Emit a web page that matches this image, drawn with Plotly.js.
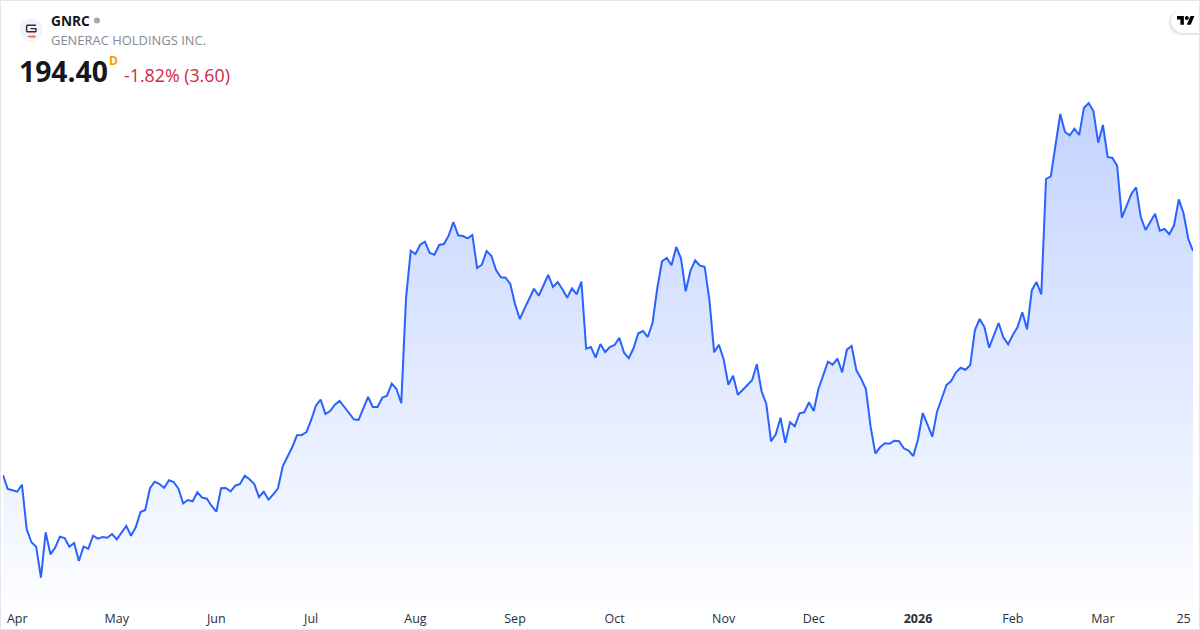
<!DOCTYPE html>
<html>
<head>
<meta charset="utf-8">
<script src="https://cdn.plot.ly/plotly-3.0.1.min.js"></script>
<style>html,body{margin:0;padding:0;background:#fff;overflow:hidden}#c{width:1200px;height:630px}</style>
</head>
<body>
<div id="c"></div>
<script>
const closes = [129.53,125.48,125.10,124.69,126.72,113.80,110.04,108.77,99.79,112.94,106.56,108.48,111.66,111.28,108.77,109.84,104.62,108.77,108.19,111.95,111.08,111.57,111.37,112.44,110.91,112.82,114.76,111.95,114.38,118.81,119.40,125.68,127.59,126.92,125.85,127.99,127.50,125.56,121.33,122.29,121.91,124.52,122.96,122.67,120.55,118.90,125.68,125.76,124.81,126.43,126.92,129.33,128.28,126.92,123.16,124.69,122.38,123.94,125.68,132.05,134.66,137.55,141.03,141.11,141.98,145.46,149.60,151.34,147.20,148.06,149.89,150.96,149.22,147.40,145.66,145.46,148.73,152.12,149.22,149.22,151.92,152.49,155.97,154.44,150.29,180.59,194.49,193.53,196.22,197.09,193.82,193.33,196.14,196.43,198.83,202.80,198.95,198.74,198.08,199.03,189.48,190.43,194.40,193.04,188.90,186.78,186.67,184.84,179.05,174.71,177.69,180.70,183.48,181.45,184.55,187.45,183.97,185.42,183.31,180.88,183.60,181.86,185.51,166.11,166.60,163.50,167.47,165.15,166.60,167.18,169.29,164.95,163.33,166.22,170.57,171.23,169.49,173.55,183.60,191.42,192.37,190.26,195.56,192.29,182.73,188.69,191.71,190.14,189.85,180.21,165.06,167.26,163.04,155.68,158.29,152.78,154.15,155.51,156.95,161.59,153.77,150.09,139.29,141.32,146.12,138.88,144.79,143.63,147.40,147.69,150.58,148.06,154.52,158.40,162.34,161.47,163.21,159.27,165.82,166.89,159.85,157.42,154.44,143.52,135.70,137.55,138.71,138.59,139.46,139.29,137.26,136.57,135.03,139.87,147.48,144.10,140.62,147.77,151.74,155.59,156.75,159.27,160.60,160.02,161.30,171.52,174.71,172.39,166.40,169.87,173.55,169.41,167.38,170.07,172.39,176.65,171.72,183.02,185.42,181.86,215.25,216.03,225.01,234.08,228.86,227.91,229.82,227.99,235.90,237.26,234.94,225.76,230.89,221.62,221.33,219.10,204.04,207.43,210.91,212.85,204.16,200.48,202.71,205.20,200.28,200.77,199.24,201.84,209.37,205.32,197.96,194.40];
const tickBars = [3,24,45,65,87,108,129,152,171,193,213,232,249];
const tickLabels = ['Apr','May','Jun','Jul','Aug','Sep','Oct','Nov','Dec','<b>2026</b>','Feb','Mar','25'];
const symbol = 'GNRC';
const company = 'GENERAC HOLDINGS INC.';
const lastPrice = '194.40';
const change = '-1.82% (3.60)';
const priceMin = 90.72, priceMax = 267.09;

const W = 1200, H = 630, ml = 3, mr = 7, mt = 0, mb = 21;
const px = x => (x - ml) / (W - ml - mr);
const py = y => 1 - (y - mt) / (H - mt - mb);
const bars = closes.map((_, i) => i);

function note(text, x, y, size, color, bold, font, anchor) {
  return {text: bold ? '<b>' + text + '</b>' : text, xref: 'paper', yref: 'paper', x: px(x), y: py(y),
    xanchor: anchor || 'left', yanchor: 'middle', showarrow: false, borderpad: 0,
    font: {family: font || '"Open Sans", sans-serif', size: size, color: color}};
}
function circle(cx, cy, r, fill) {
  return {type: 'circle', xref: 'paper', yref: 'paper', x0: px(cx - r), x1: px(cx + r), y0: py(cy - r), y1: py(cy + r), fillcolor: fill, line: {width: 0}};
}
function poly(pts, fill) {
  return {type: 'path', xref: 'paper', yref: 'paper', fillcolor: fill, line: {width: 0},
    path: 'M' + pts.map(p => px(p[0]) + ',' + py(p[1])).join('L') + 'Z'};
}
function stroke(pts, color, width) {
  return {type: 'path', xref: 'paper', yref: 'paper', line: {color: color, width: width},
    path: 'M' + pts.map(p => px(p[0]) + ',' + py(p[1])).join('L')};
}
function pill(x0, y0, y1, fill) {
  const r = (y1 - y0) / 2, n = 10, pts = [];
  for (let k = 0; k <= n; k++) { const a = Math.PI / 2 + Math.PI * k / n; pts.push([x0 + r + r * Math.cos(a), (y0 + y1) / 2 - r * Math.sin(a)]); }
  pts.push([1199, y1], [1199, y0]);
  return poly(pts, fill);
}
const s = 0.49, ox = 1177, oy = 14;
const tv = (x, y) => [ox + x * s, oy + y * s];

const shapes = [
  pill(1168, 10, 36, 'rgba(0,0,0,0.03)'),
  pill(1169, 9.5, 35, 'rgba(0,0,0,0.04)'),
  pill(1170, 9, 34, 'rgba(0,0,0,0.05)'),
  pill(1171, 9, 33, '#ffffff'),
  poly([tv(14,22),tv(7,22),tv(7,11),tv(0,11),tv(0,4),tv(14,4)], '#000000'),
  poly([tv(28,22),tv(20,22),tv(27.5,4),tv(35.5,4)], '#000000'),
  circle(ox + 20 * s, oy + 8 * s, 4 * s, '#000000'),
  circle(31, 30, 11.5, '#f0f3fa'),
  stroke([[36,25.2],[27.2,25.2],[26.6,26],[26.6,31],[27.2,31.8],[35.4,31.8],[36,31],[36,28.6],[30.5,28.6]], '#2a2e39', 1.4),
  poly([[27,36],[35.5,35.6],[35.5,37.4],[29,37.2]], '#f2601f'),
  circle(97, 20.5, 3, '#a3a6af'),
  {type: 'rect', xref: 'paper', yref: 'paper', x0: px(0.5), x1: px(1199.5), y0: py(0.5), y1: py(629.5), line: {color: '#e4e6ec', width: 1}, fillcolor: 'rgba(0,0,0,0)'}
];

const annotations = [
  note(symbol, 49.5, 20.5, 13.7, '#131722', true),
  note(company, 49.5, 40.5, 12.95, '#868993'),
  note(lastPrice, 17.5, 71, 28.3, '#131722', true),
  note('D', 108, 61, 12, '#ff9800', true),
  note(change, 122.5, 74.5, 17.8, '#d0293f')
];

Plotly.newPlot('c', [{
  x: bars, y: closes, type: 'scatter', mode: 'lines', hoverinfo: 'skip',
  line: {color: '#2962ff', width: 2},
  fill: 'tozeroy',
  fillgradient: {type: 'vertical', start: 237.3, stop: priceMin,
    colorscale: [[0, 'rgba(41,98,255,0.28)'], [1, 'rgba(41,98,255,0.01)']]}
}], {
  width: W, height: H, margin: {l: ml, r: mr, t: mt, b: mb, pad: 0},
  paper_bgcolor: '#ffffff', plot_bgcolor: '#ffffff', showlegend: false,
  xaxis: {range: [0, closes.length - 1], tickmode: 'array', tickvals: tickBars, ticktext: tickLabels,
    showgrid: false, zeroline: false, showline: false, ticks: '', fixedrange: true,
    tickangle: 0, tickfont: {family: '"Open Sans", sans-serif', size: 12.5, color: '#2a2e39'}},
  yaxis: {range: [priceMin, priceMax], visible: false, fixedrange: true},
  shapes: shapes, annotations: annotations
}, {displayModeBar: false, staticPlot: true});
</script>
</body>
</html>
